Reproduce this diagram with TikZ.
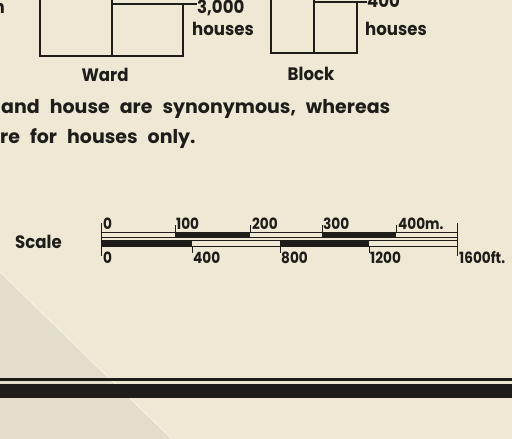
\documentclass[tikz,border=0pt]{standalone}
\usepackage{fontspec}
\setmainfont{Poppins}
\newfontfamily\letterfont{Poppins}[BoldFeatures={FakeStretch=0.92}]
\newfontfamily\digitfont{Poppins}[BoldFeatures={FakeStretch=0.88}]
\usetikzlibrary{positioning}
\definecolor{paper}{HTML}{EEE8D4}
\definecolor{ink}{HTML}{1E1D1A}
\definecolor{foldshade}{HTML}{E3DECC}
\newcommand\widespaces{\spaceskip=10pt plus 1pt\relax}

\tikzset{
  lbl/.style={font=\letterfont\fontsize{18}{20}\selectfont\bfseries, text=ink, inner sep=0pt},
  notelbl/.style={font=\fontsize{19}{22}\selectfont\bfseries\widespaces, text=ink, inner sep=0pt},
  numlbl/.style={font=\digitfont\fontsize{15.5}{16}\selectfont\bfseries, text=ink, inner sep=0pt},
  box/.style={draw=ink, line width=1.2pt},
  barline/.style={draw=ink, line width=0.9pt},
}

\begin{document}
\begin{tikzpicture}[x=1pt,y=-1pt]
  \useasboundingbox (0,0) rectangle (512,439);
  \clip (0,0) rectangle (512,439);
  % Papir og fold
  \fill[paper] (0,0) rectangle (512,439);
  \fill[foldshade] (0,272) -- (172,439) -- (0,439) -- cycle;
  \draw[white!60!paper, line width=0.8pt] (0,272) -- (172,439);

  % Rest af ord i venstre kant
  \node[lbl, anchor=base east] (cutword) at (5,13) {n};

  % Ward
  \draw[box] (40,-10) rectangle (112,56);
  \draw[box] (112,4) rectangle (183,56);
  \coordinate (wardtip) at (183,4);
  \node[lbl, anchor=base west] (wardnum) at (197,13) {3,000};
  \node[lbl, anchor=base west] (wardhouses) at (192,35) {houses};
  \draw[box] (wardtip) -- (wardtip -| wardnum.west);
  \node[lbl, anchor=base] (ward) at (105,81) {Ward};

  % Block
  \draw[box] (271,-10) rectangle (314,53);
  \draw[box] (314,2) rectangle (357,53);
  \coordinate (blocktip) at (357,2);
  \node[lbl, anchor=base west] (blocknum) at (367,8) {400};
  \node[lbl, anchor=base west] (blockhouses) at (365,35) {houses};
  \draw[box] (blocktip) -- (blocktip -| blocknum.west);
  \node[lbl, anchor=base] (block) at (311,80) {Block};

  % Forklaring
  \node[notelbl, anchor=base west] (noteone) at (1,113) {and house are synonymous, whereas};
  \node[notelbl, anchor=base west] (notetwo) at (0,143) {re for houses only.};

  % Maalestok
  \node[lbl, anchor=base west] (scale) at (15,248) {Scale};
  \draw[barline] (101,232) rectangle (457,237);
  \fill[ink] (175,232) rectangle (250,237);
  \fill[ink] (322,232) rectangle (396,237);
  \draw[barline] (101,240) rectangle (457,246);
  \fill[ink] (101,240) rectangle (192,246);
  \fill[ink] (280,240) rectangle (369,246);
  \draw[barline] (101,223) -- (101,256);
  \draw[barline] (457,223) -- (457,256);
  \foreach \x in {175,250,322,396}
    \draw[barline] (\x,225) -- (\x,232);
  \foreach \x in {192,280,369}
    \draw[barline] (\x,246) -- (\x,253);
  % Meter-tal
  \foreach \x/\t in {103/0,176/100,252/200,323/300,398/400m.}
    \node[numlbl, anchor=base west] at (\x,229) {\t};
  % Fod-tal
  \foreach \x/\t in {103/0,193/400,281/800,370/1200,459/1600ft.}
    \node[numlbl, anchor=base west] at (\x,263) {\t};

  % Bundlinje
  \draw[ink, line width=2.5pt] (0,379.5) -- (512,379.5);
  \fill[ink] (0,384) rectangle (512,398);
\end{tikzpicture}
\end{document}
